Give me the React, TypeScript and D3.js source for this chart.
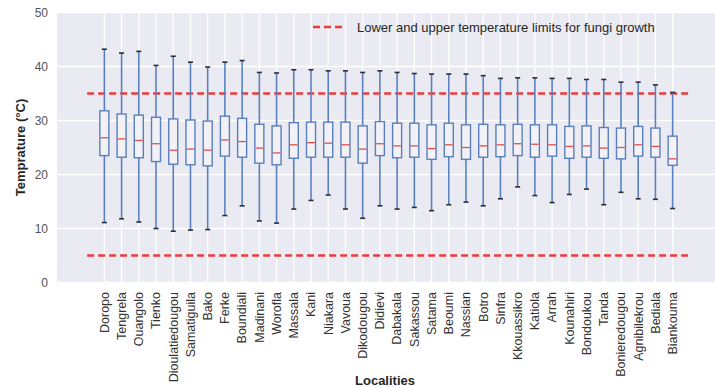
import React, { useEffect, useRef } from 'react';
import * as d3 from 'd3';

const localities = [
  'Doropo', 'Tengrela', 'Ouangolo', 'Tienko', 'Dioulatiedougou', 'Samatiguila', 'Bako',
  'Ferke', 'Boundiali', 'Madinani', 'Worofla', 'Massala', 'Kani', 'Niakara', 'Vavoua',
  'Dikodougou', 'Didievi', 'Dabakala', 'Sakassou', 'Satama', 'Beoumi', 'Nassian', 'Botro',
  'Sinfra', 'Kkouassikro', 'Katiola', 'Arrah', 'Kounahiri', 'Bondoukou', 'Tanda',
  'Bonieredougou', 'Agnibilekrou', 'Bediala', 'Biankouma',
];

// whisker ends and quartiles (°C)
const whiskerHigh = [
  43.2, 42.5, 42.8, 40.2, 41.9, 40.8, 39.9, 40.8, 41.1, 38.9, 38.8, 39.4, 39.4, 39.2, 39.2,
  38.9, 39.2, 38.9, 38.7, 38.6, 38.6, 38.6, 38.3, 37.8, 37.9, 37.9, 37.8, 37.8, 37.6, 37.6,
  37.1, 37.1, 36.6, 35.2,
];
const q3 = [
  31.8, 31.2, 31.0, 30.6, 30.3, 30.1, 29.9, 30.8, 30.4, 29.3, 29.0, 29.6, 29.7, 29.7, 29.7,
  29.0, 29.8, 29.5, 29.5, 29.2, 29.5, 29.2, 29.3, 29.2, 29.3, 29.2, 29.2, 28.9, 29.0, 28.7,
  28.6, 28.9, 28.6, 27.1,
];
const median = [
  26.8, 26.6, 26.3, 25.7, 24.5, 24.7, 24.5, 26.4, 26.1, 24.9, 24.0, 25.5, 25.9, 25.8, 25.5,
  24.7, 25.7, 25.3, 25.3, 24.8, 25.5, 25.0, 25.3, 25.5, 25.7, 25.6, 25.5, 25.2, 25.3, 24.9,
  25.0, 25.5, 25.2, 22.9,
];
const q1 = [
  23.5, 23.2, 23.1, 22.4, 21.9, 21.8, 21.6, 23.4, 23.2, 22.1, 21.8, 23.0, 23.2, 23.2, 23.2,
  22.1, 23.5, 23.1, 23.2, 22.8, 23.3, 22.8, 23.2, 23.3, 23.5, 23.2, 23.4, 23.0, 23.2, 23.0,
  22.9, 23.4, 23.2, 21.7,
];
const whiskerLow = [
  11.1, 11.8, 11.2, 10.0, 9.5, 9.7, 9.8, 12.4, 14.2, 11.4, 11.0, 13.6, 15.2, 16.2, 13.6,
  11.9, 14.2, 13.6, 13.9, 13.3, 14.4, 14.9, 14.2, 15.5, 17.7, 16.1, 14.8, 16.3, 17.3, 14.4,
  16.7, 15.5, 15.4, 13.7,
];

const limits = [5, 35];
const yTicks = [0, 10, 20, 30, 40, 50];
const legendText = 'Lower and upper temperature limits for fungi growth';

export default function App() {
  const ref = useRef<SVGSVGElement>(null);

  useEffect(() => {
    const svg = d3.select(ref.current);
    svg.selectAll('*').remove();

    const W = 715, H = 387;
    const plot = { left: 57, right: 720, top: 12.5, bottom: 282.5 };

    // boxes sit at positions 1..n, limit lines run from 0 to n+1
    const n = localities.length;
    const x = d3.scaleLinear().domain([-1.75, n + 2.75]).range([plot.left, plot.right]);
    const y = d3.scaleLinear().domain([0, 50]).range([plot.bottom, plot.top]);

    svg.append('rect')
      .attr('x', plot.left).attr('y', plot.top)
      .attr('width', W - plot.left).attr('height', plot.bottom - plot.top)
      .attr('fill', '#eaeaf2');

    const grid = svg.append('g').attr('stroke', '#fff').attr('stroke-width', 1.3);
    grid.selectAll('line.h').data(yTicks).join('line')
      .attr('x1', plot.left).attr('x2', W)
      .attr('y1', d => y(d)).attr('y2', d => y(d));
    grid.selectAll('line.v').data(localities).join('line')
      .attr('x1', (_, i) => x(i + 1)).attr('x2', (_, i) => x(i + 1))
      .attr('y1', plot.top).attr('y2', plot.bottom);

    // limit lines
    svg.append('g').selectAll('line').data(limits).join('line')
      .attr('x1', x(0)).attr('x2', x(n + 1))
      .attr('y1', d => y(d)).attr('y2', d => y(d))
      .attr('stroke', '#ee3a3a').attr('stroke-width', 2.5)
      .attr('stroke-dasharray', '7 4');

    const boxW = 9, capW = 5;
    const boxes = svg.append('g').selectAll('g').data(localities).join('g')
      .attr('transform', (_, i) => `translate(${x(i + 1)},0)`);

    boxes.append('line')
      .attr('y1', (_, i) => y(whiskerHigh[i])).attr('y2', (_, i) => y(q3[i]))
      .attr('stroke', '#5a7fbf').attr('stroke-width', 1.6);
    boxes.append('line')
      .attr('y1', (_, i) => y(q1[i])).attr('y2', (_, i) => y(whiskerLow[i]))
      .attr('stroke', '#5a7fbf').attr('stroke-width', 1.6);
    boxes.append('line')
      .attr('x1', -capW / 2).attr('x2', capW / 2)
      .attr('y1', (_, i) => y(whiskerHigh[i])).attr('y2', (_, i) => y(whiskerHigh[i]))
      .attr('stroke', '#2b2b3a').attr('stroke-width', 1.6);
    boxes.append('line')
      .attr('x1', -capW / 2).attr('x2', capW / 2)
      .attr('y1', (_, i) => y(whiskerLow[i])).attr('y2', (_, i) => y(whiskerLow[i]))
      .attr('stroke', '#2b2b3a').attr('stroke-width', 1.6);
    boxes.append('rect')
      .attr('x', -boxW / 2).attr('width', boxW)
      .attr('y', (_, i) => y(q3[i]))
      .attr('height', (_, i) => y(q1[i]) - y(q3[i]))
      .attr('fill', '#f1f1f6').attr('stroke', '#5a7fbf').attr('stroke-width', 1.4);
    boxes.append('line')
      .attr('x1', -boxW / 2 + 0.7).attr('x2', boxW / 2 - 0.7)
      .attr('y1', (_, i) => y(median[i])).attr('y2', (_, i) => y(median[i]))
      .attr('stroke', '#e0504a').attr('stroke-width', 1.3);

    // y ticks
    svg.append('g').selectAll('text').data(yTicks).join('text')
      .attr('x', 48).attr('y', d => y(d)).attr('dy', '0.35em')
      .attr('text-anchor', 'end')
      .attr('font-family', 'Liberation Sans, Arial, sans-serif').attr('font-size', 12)
      .attr('fill', '#555')
      .text(d => d);

    // x tick labels, vertical
    svg.append('g').selectAll('text').data(localities).join('text')
      .attr('transform', (_, i) => `translate(${x(i + 1)},292) rotate(-90)`)
      .attr('dy', '0.35em')
      .attr('text-anchor', 'end')
      .attr('font-family', 'Liberation Sans, Arial, sans-serif').attr('font-size', 12.5)
      .attr('fill', '#333')
      .text(d => d);

    svg.append('text')
      .attr('transform', `translate(20,${(plot.top + plot.bottom) / 2}) rotate(-90)`)
      .attr('dy', '0.35em').attr('text-anchor', 'middle')
      .attr('font-family', 'Liberation Sans, Arial, sans-serif').attr('font-size', 13)
      .attr('font-weight', 'bold').attr('fill', '#262626')
      .text('Temprature (°C)');

    // sits at the very bottom edge, as in the source image
    svg.append('text')
      .attr('x', 385).attr('y', H - 2)
      .attr('text-anchor', 'middle')
      .attr('font-family', 'Liberation Sans, Arial, sans-serif').attr('font-size', 13)
      .attr('font-weight', 'bold').attr('fill', '#262626')
      .text('Localities');

    // legend
    const lg = svg.append('g').attr('transform', 'translate(313,27)');
    lg.append('line').attr('x1', 0).attr('x2', 31)
      .attr('stroke', '#ee3a3a').attr('stroke-width', 2.5).attr('stroke-dasharray', '7 4');
    lg.append('text').attr('x', 44).attr('dy', '0.35em')
      .attr('font-family', 'Liberation Sans, Arial, sans-serif').attr('font-size', 13)
      .attr('fill', '#262626')
      .text(legendText);
  }, []);

  return (
    <svg ref={ref} width={715} height={387}
      style={{ position: 'absolute', left: 0, top: 0, background: '#fff' }} />
  );
}
